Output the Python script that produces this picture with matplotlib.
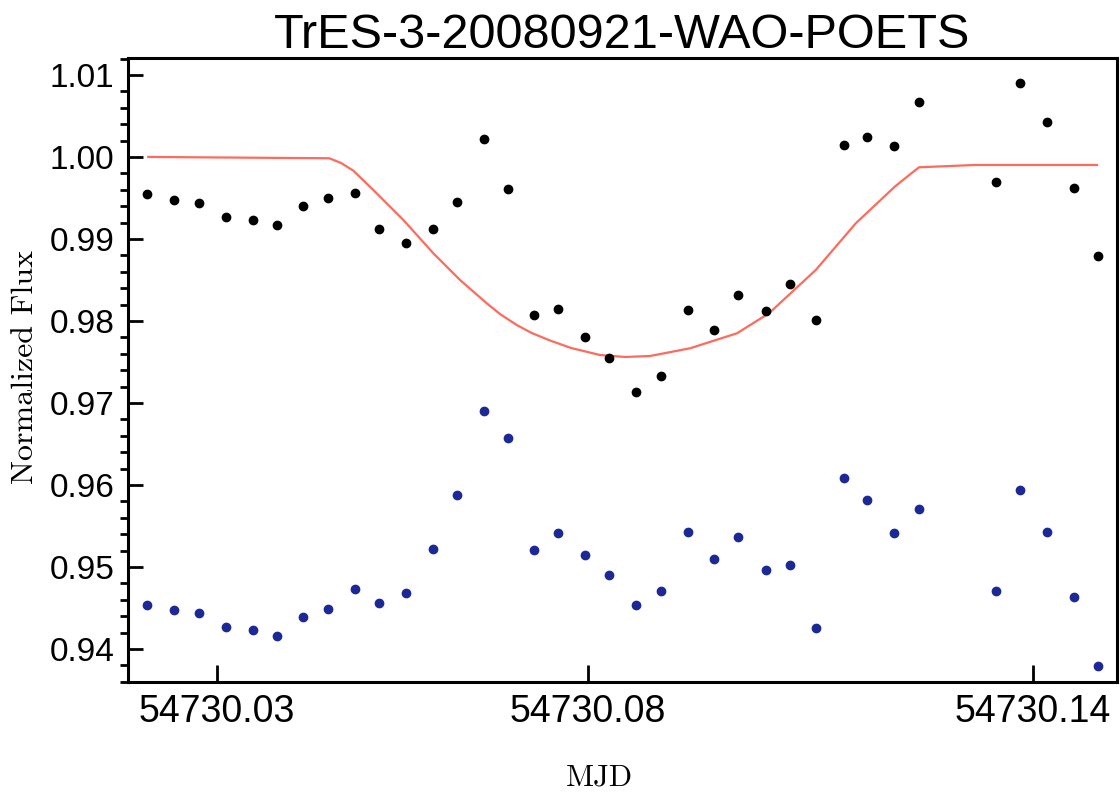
import numpy as np
import matplotlib.pyplot as plt
from matplotlib.ticker import MultipleLocator

# Datos (MJD - 54730)
t_obj = [0.02057, 0.02425, 0.02753, 0.03121, 0.03481, 0.03809, 0.04159, 0.04496,
         0.04860, 0.05179, 0.05543, 0.05907, 0.06235, 0.06602, 0.06919, 0.07278,
         0.07602, 0.07965, 0.08283, 0.08652, 0.08984, 0.09345, 0.09702, 0.10027,
         0.10395, 0.10720, 0.11071, 0.11445, 0.11764, 0.12127, 0.12457, 0.13496,
         0.13826, 0.14189, 0.14546, 0.14871]

flux_obj = [0.99545, 0.99472, 0.99439, 0.99268, 0.99232, 0.99167, 0.99399, 0.99496,
            0.99557, 0.99122, 0.98955, 0.99118, 0.99448, 1.00216, 0.99613, 0.98073,
            0.98143, 0.97805, 0.97549, 0.97128, 0.97329, 0.98130, 0.97894, 0.98321,
            0.98122, 0.98451, 0.98016, 1.00146, 1.00244, 1.00138, 1.00671, 0.99695,
            1.00899, 1.00427, 0.99626, 0.98789]

flux_comp = [0.94537, 0.94472, 0.94435, 0.94268, 0.94232, 0.94159, 0.94394, 0.94491,
             0.94728, 0.94557, 0.94687, 0.95220, 0.95878, 0.96906, 0.96577, 0.95211,
             0.95411, 0.95143, 0.94906, 0.94537, 0.94704, 0.95430, 0.95098, 0.95362,
             0.94960, 0.95024, 0.94252, 0.96082, 0.95813, 0.95411, 0.95707, 0.94707,
             0.95935, 0.95430, 0.94634, 0.93796]

# Modelo de transito (curva roja)
t_model = [0.02074, 0.04513, 0.04671, 0.04837, 0.05106, 0.05511, 0.05915, 0.06275,
           0.06635, 0.06814, 0.07039, 0.07240, 0.07488, 0.07771, 0.08162, 0.08499,
           0.08836, 0.09375, 0.10008, 0.10439, 0.10720, 0.11070, 0.11609, 0.12135,
           0.12296, 0.12461, 0.13209, 0.14860]
flux_model = [1.00000, 0.99984, 0.99927, 0.99833, 0.99598, 0.99232, 0.98826, 0.98500,
              0.98216, 0.98085, 0.97951, 0.97854, 0.97762, 0.97671, 0.97585, 0.97561,
              0.97573, 0.97667, 0.97850, 0.98094, 0.98329, 0.98622, 0.99191, 0.99638,
              0.99756, 0.99874, 0.99902, 0.99902]

mjd0 = 54730.0
t_obj = mjd0 + np.array(t_obj)
t_model = mjd0 + np.array(t_model)

fig = plt.figure(figsize=(11.2, 8.05), dpi=100)
ax = fig.add_axes([0.1143, 0.1528, 0.883, 0.7752])

ax.plot(t_model, flux_model, color='#ff6a5c', linewidth=1.6, zorder=2)
ax.plot(t_obj, flux_obj, 'o', color='black', markersize=6, zorder=3)
ax.plot(t_obj, flux_comp, 'o', color='#1c2896', markersize=6, zorder=3)

ax.set_xlim(mjd0 + 0.01801, mjd0 + 0.15129)
ax.set_ylim(0.93598, 1.01207)

xt = [mjd0 + 0.03, mjd0 + 0.08, mjd0 + 0.14]
ax.set_xticks(xt)
ax.set_xticklabels(['54730.03', '54730.08', '54730.14'])
ax.yaxis.set_major_locator(MultipleLocator(0.01))
ax.yaxis.set_minor_locator(MultipleLocator(0.002))
ax.yaxis.set_major_formatter(plt.FormatStrFormatter('%.2f'))

ax.tick_params(axis='both', direction='in', width=2, colors='black')
ax.tick_params(axis='y', which='major', length=11, labelsize=24, pad=10)
ax.tick_params(axis='y', which='minor', length=6, width=2)
ax.tick_params(axis='x', which='major', length=12, labelsize=27, pad=9)
for lab in ax.get_xticklabels() + ax.get_yticklabels():
    lab.set_family('Liberation Sans')

for s in ax.spines.values():
    s.set_linewidth(2.2)

ax.set_title('TrES-3-20080921-WAO-POETS', fontsize=35, family='Liberation Sans', pad=5)
ax.set_xlabel('MJD', fontsize=22, family='cmr10')
ax.set_ylabel('Normalized Flux', fontsize=23, family='cmr10')
ax.xaxis.set_label_coords(0.477, -0.131)
ax.yaxis.set_label_coords(-0.09, 0.505)

plt.savefig('out.png', dpi=100)
